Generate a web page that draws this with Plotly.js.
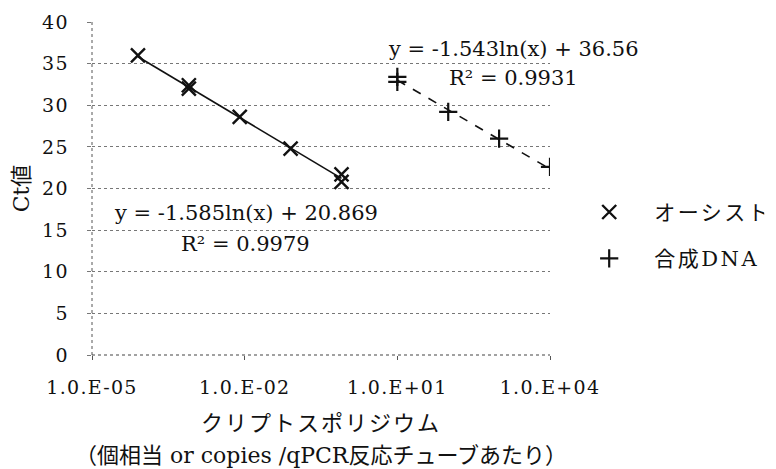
<!DOCTYPE html>
<html>
<head>
<meta charset="utf-8">
<script src="https://cdn.plot.ly/plotly-3.0.1.min.js"></script>
<style>
html,body{margin:0;padding:0;background:#fff;}
#chart{width:776px;height:469px;}
#chart .xtick text{letter-spacing:1.3px;}
#chart .ytick text{letter-spacing:1.5px;}
#chart .legendtext{letter-spacing:2.5px;}
#chart .g-xtitle text{letter-spacing:2px;}
</style>
</head>
<body>
<div id="chart"></div>
<script>
// ---- data ----
const seriesNames = ["オーシスト", "合成DNA"];
const oocystX  = [8e-5, 8e-4, 8e-4, 8e-3, 8e-2, 8e-1, 8e-1];
const oocystCt = [36.0, 32.4, 32.0, 28.6, 24.8, 21.7, 20.8];
const dnaX  = [10, 10, 100, 1000, 10000];
const dnaCt = [33.4, 32.8, 29.2, 26.0, 22.6];
// logarithmic trendline coefficients shown on the chart: y = a ln(x) + b
const fitSlope     = [-1.585, -1.543];
const fitIntercept = [20.869, 36.56];
const fitEquation  = ["y = -1.585ln(x) + 20.869", "y = -1.543ln(x) + 36.56"];
const fitR2        = ["R² = 0.9979", "R² = 0.9931"];
const xTickVals = [1e-5, 1e-2, 1e1, 1e4];
const xTickText = ["1.0.E-05", "1.0.E-02", "1.0.E+01", "1.0.E+04"];
const yTickVals = [0, 5, 10, 15, 20, 25, 30, 35, 40];
const xTitleLines = ["クリプトスポリジウム", "（個相当 or copies /qPCR反応チューブあたり）"];
const yTitle = "Ct値";

function trend(xs, i) {
  const lo = Math.min.apply(null, xs), hi = Math.max.apply(null, xs);
  return {x: [lo, hi], y: [lo, hi].map(v => fitSlope[i] * Math.log(v) + fitIntercept[i])};
}
const t0 = trend(oocystX, 0), t1 = trend(dnaX, 1);

const serif = "'DejaVu Serif', 'Liberation Serif', 'Noto Sans CJK JP', serif";
const black = "#111";

const traces = [
  {x: t0.x, y: t0.y, mode: "lines", line: {color: black, width: 1.6}, showlegend: false, hoverinfo: "skip"},
  {x: t1.x, y: t1.y, mode: "lines", line: {color: black, width: 1.6, dash: "dash"}, showlegend: false, hoverinfo: "skip"},
  {x: oocystX, y: oocystCt, name: seriesNames[0], mode: "markers", legendgroup: "a",
   marker: {symbol: "x-thin", size: 14, line: {color: black, width: 2.4}}},
  {x: dnaX, y: dnaCt, name: seriesNames[1], mode: "markers", legendgroup: "b",
   marker: {symbol: "cross-thin", size: 13, line: {color: black, width: 2.2}}}
];

const layout = {
  width: 776, height: 469,
  margin: {l: 92, r: 219, t: 22, b: 114},
  paper_bgcolor: "#fff", plot_bgcolor: "#fff",
  font: {family: serif, color: black, size: 19},
  showlegend: true,
  legend: {x: 1.031, y: 0.49, xanchor: "left", yanchor: "top", itemwidth: 80,
           entrywidth: 100, entrywidthmode: "pixels",
           font: {size: 21, family: serif}, tracegroupgap: 16, traceorder: "grouped",
           bgcolor: "rgba(0,0,0,0)"},
  xaxis: {
    type: "log", range: [-5, 4], tickvals: xTickVals, ticktext: xTickText,
    showgrid: false, zeroline: false, showline: false,
    ticks: "outside", ticklen: 4, tickcolor: "#555", tickwidth: 1,
    tickfont: {size: 19, family: serif}, ticklabelstandoff: 11,
    title: {text: xTitleLines[0], font: {size: 22, family: serif}, standoff: 18}
  },
  yaxis: {
    range: [0, 40], tickvals: yTickVals, showgrid: true,
    gridcolor: "#777", griddash: "dot", gridwidth: 1,
    zeroline: false, showline: false,
    ticks: "outside", ticklen: 4, tickcolor: "#777",
    tickfont: {size: 19, family: serif}, ticklabelstandoff: 14,
    title: {text: yTitle, font: {size: 22, family: serif}, standoff: 9}
  },
  shapes: [
    {type: "line", xref: "paper", yref: "paper", x0: 0, x1: 0, y0: 0, y1: 1,
     line: {color: "#555", width: 1, dash: "dot"}},
    {type: "line", xref: "paper", yref: "paper", x0: 0, x1: 1, y0: 0, y1: 0,
     line: {color: "#444", width: 1.2, dash: "dot"}}
  ],
  annotations: [
    {xref: "x", yref: "y", x: -1.98, y: 17.0, text: fitEquation[0], showarrow: false, font: {size: 21, family: serif}},
    {xref: "x", yref: "y", x: -1.98, y: 13.3, text: fitR2[0], showarrow: false, font: {size: 21, family: serif}},
    {xref: "x", yref: "y", x: 3.28, y: 36.8, text: fitEquation[1], showarrow: false, font: {size: 21, family: serif}},
    {xref: "x", yref: "y", x: 3.28, y: 33.3, text: fitR2[1], showarrow: false, font: {size: 21, family: serif}},
    {xref: "paper", yref: "paper", x: 0.5, y: -0.301, yanchor: "middle", text: xTitleLines[1], showarrow: false,
     font: {size: 22, family: serif}}
  ]
};

Plotly.newPlot("chart", traces, layout, {displayModeBar: false, staticPlot: true});
</script>
</body>
</html>
